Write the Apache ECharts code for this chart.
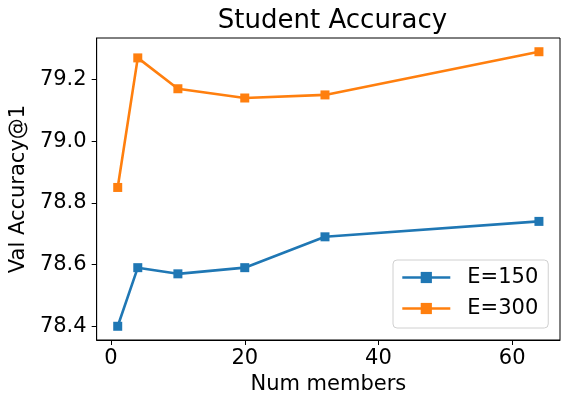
<!DOCTYPE html>
<html lang="en">
<head>
    <meta charset="UTF-8">
    <title>Student Accuracy</title>
    <script src="https://cdn.jsdelivr.net/npm/echarts@6/dist/echarts.min.js"></script>
    <style>
        * { margin: 0; padding: 0 }
        html, body { width: 100%; height: 100%; background: #fff; }
        #main { width: 569px; height: 405px; }
    </style>
</head>
<body>
<div id="main"></div>
<script type="text/javascript">
    // data
    var members = [1, 4, 10, 20, 32, 64];
    var accE150 = [78.40, 78.59, 78.57, 78.59, 78.69, 78.74];
    var accE300 = [78.85, 79.27, 79.17, 79.14, 79.15, 79.29];
    var xTicks = [0, 20, 40, 60];
    var yTicks = [78.4, 78.6, 78.8, 79.0, 79.2];

    function pairs(xs, ys) {
        return xs.map(function (x, i) { return [x, ys[i]]; });
    }

    var font = 'DejaVu Sans';
    var chart = echarts.init(document.getElementById('main'));

    chart.setOption({
        animation: false,
        title: {
            text: 'Student Accuracy',
            left: 327.5,
            textAlign: 'center',
            top: 3,
            textStyle: { fontFamily: font, fontSize: 26, fontWeight: 'normal', color: '#000' }
        },
        grid: {
            left: 95, right: 9, top: 38, bottom: 65,
            show: true, borderColor: '#000', borderWidth: 1
        },
        legend: {
            orient: 'vertical',
            left: 393, top: 260,
            padding: [7, 10, 9, 8],
            itemWidth: 48, itemHeight: 14, itemGap: 10,
            backgroundColor: '#fff',
            borderColor: '#d0d0d0', borderWidth: 1, borderRadius: 4,
            lineStyle: { width: 2.6 },
            textStyle: { fontFamily: font, fontSize: 21, color: '#000', lineHeight: 21, padding: [0, 0, 0, 12] },
            data: ['E=150', 'E=300']
        },
        xAxis: {
            type: 'value',
            min: -2.15, max: 67.15,
            name: 'Num members',
            nameLocation: 'middle',
            nameGap: 32,
            nameTextStyle: { fontFamily: font, fontSize: 21, color: '#000' },
            axisLine: { show: true, onZero: false, lineStyle: { color: '#000' } },
            axisTick: { show: true, length: 5, inside: false, customValues: xTicks, lineStyle: { color: '#000' } },
            axisLabel: { margin: 8, fontFamily: font, fontSize: 21, color: '#000', customValues: xTicks },
            splitLine: { show: false }
        },
        yAxis: {
            type: 'value',
            min: 78.3555, max: 79.3345,
            name: 'Val Accuracy@1',
            nameLocation: 'middle',
            nameGap: 64,
            nameTextStyle: { fontFamily: font, fontSize: 21, color: '#000' },
            axisLine: { show: true, onZero: false, lineStyle: { color: '#000' } },
            axisTick: { show: true, length: 5, inside: false, customValues: yTicks, lineStyle: { color: '#000' } },
            axisLabel: {
                margin: 10, fontFamily: font, fontSize: 21, color: '#000', customValues: yTicks,
                formatter: function (v) { return v.toFixed(1); }
            },
            splitLine: { show: false }
        },
        series: [
            {
                name: 'E=150', type: 'line',
                data: pairs(members, accE150),
                symbol: 'rect', symbolSize: 9,
                lineStyle: { width: 2.6, color: '#1f77b4' },
                itemStyle: { color: '#1f77b4' }
            },
            {
                name: 'E=300', type: 'line',
                data: pairs(members, accE300),
                symbol: 'rect', symbolSize: 9,
                lineStyle: { width: 2.6, color: '#ff7f0e' },
                itemStyle: { color: '#ff7f0e' }
            }
        ]
    });
</script>
</body>
</html>
